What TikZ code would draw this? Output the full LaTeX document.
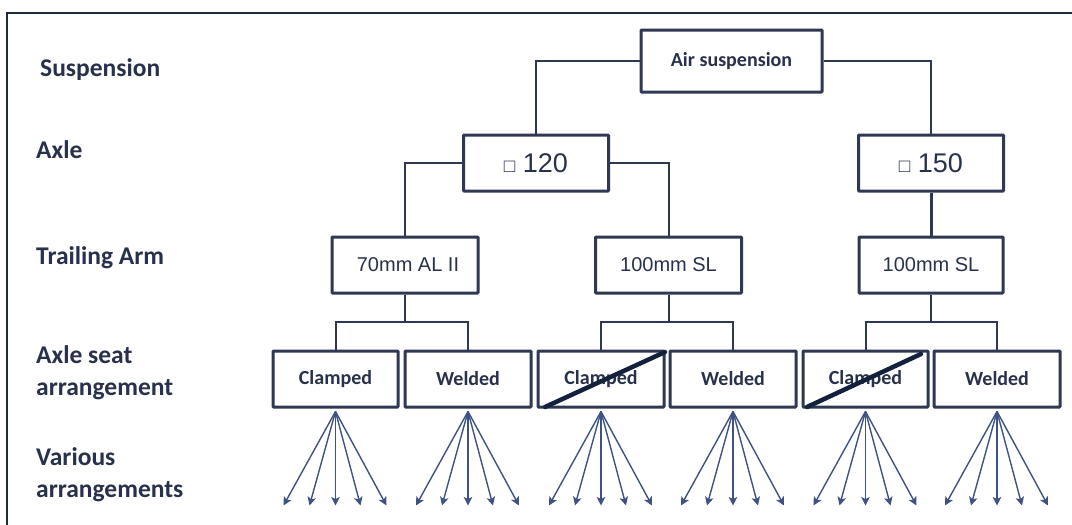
\documentclass[tikz,border=0pt]{standalone}
\usepackage{fontspec}
\setmainfont{Carlito}
\newfontfamily\arialf{Liberation Sans}
\usetikzlibrary{arrows.meta,calc}
\definecolor{navy}{HTML}{2E3853}
\definecolor{txt}{HTML}{28314C}
\definecolor{arr}{HTML}{3E5383}
\definecolor{strike}{HTML}{14213D}
\definecolor{framec}{HTML}{1F2942}
\newcommand{\sqmark}{{\fontsize{19}{24}\selectfont □}}
\begin{document}
\begin{tikzpicture}[x=1pt,y=-1pt,
 box/.style={draw=navy, line width=3pt, minimum height=56pt, inner sep=0pt, text=txt, rounded corners=0.8pt},
 seat/.style={box, minimum width=125pt, font=\fontsize{20}{24}\selectfont\bfseries},
 arm/.style={box, minimum width=146pt, font=\arialf\fontsize{20}{24}\selectfont},
 axle/.style={box, minimum width=145pt, font=\arialf\fontsize{27}{30}\selectfont},
 conn/.style={draw=navy, line width=2pt},
 lab/.style={text=txt, font=\fontsize{25.5}{32}\selectfont\bfseries, align=left, inner sep=0pt},
 fan/.style={draw=arr, line width=1.4pt, -{Stealth[length=8.5pt,width=8.5pt,inset=2pt]}},
 cross/.style={draw=strike, line width=4.5pt, line cap=round}
]
\useasboundingbox (0,0) rectangle (1072,525);
\draw[framec, line width=2pt] (1072,13) -- (7,13) -- (7,525);

% left labels
\node[lab, anchor=base west] (lsusp) at (40,76) {Suspension};
\node[lab, anchor=base west] (laxle) at (36,158) {Axle};
\node[lab, anchor=base west] (larm) at (36,264) {Trailing Arm};
\node[lab, anchor=west] (lseat) at (36,372.5) {Axle seat\\arrangement};
\node[lab, anchor=west] (lvar) at (36,474.5) {Various\\arrangements};

% boxes
\node[box, minimum width=181pt, minimum height=62pt, font=\fontsize{20}{24}\selectfont\bfseries] (air) at (731.5,61) {Air suspension};
\node[axle] (a120) at (536,163) {\sqmark\ 120};
\node[axle] (a150) at (931,163) {\sqmark\ 150};
\node[arm] (t1) at (405,265) {\hspace{6pt}70mm AL II};
\node[arm] (t2) at (668.5,265) {100mm SL};
\node[arm, minimum width=144pt] (t3) at (931,265) {100mm SL};
\node[seat] (s1) at (335.5,379) {Clamped};
\node[seat, minimum width=126pt] (s2) at (468,379) {Welded};
\node[seat, minimum width=126pt] (s3) at (601,379) {Clamped};
\node[seat, minimum width=126pt] (s4) at (733,379) {Welded};
\node[seat] (s5) at (865.5,379) {Clamped};
\node[seat, minimum width=126pt] (s6) at (997,379) {Welded};

% connectors
\draw[conn] (air.west) -| (a120.north);
\draw[conn] (air.east) -| (a150.north);
\draw[conn] (a120.west) -| (t1.north);
\draw[conn] (a120.east) -| (t2.north);
\draw[conn, line width=3pt] (a150.south) -- (t3.north);
\coordinate (j1) at (405,322);
\coordinate (j2) at (668.5,322);
\coordinate (j3) at (931,322);
\draw[conn] (t1.south) -- (j1);
\draw[conn] (t2.south) -- (j2);
\draw[conn] (t3.south) -- (j3);
\draw[conn] (s1.north) |- (j1) -| (s2.north);
\draw[conn] (s3.north) |- (j2) -| (s4.north);
\draw[conn] (s5.north) |- (j3) -| (s6.north);

% strike-throughs
\draw[cross] ($(s3.south west)+(8.5,-1.5)$) -- ($(s3.north east)+(-0.5,2.5)$);
\draw[cross] ($(s5.south west)+(5.5,-1.5)$) -- ($(s5.north east)+(-8.5,4.5)$);

% fans
\foreach \s in {s1,s2,s3,s4,s5,s6}{
  \foreach \dx in {-52,-26,0,25,51}{
    \draw[fan] ($(\s.south)+(0,3)$) -- ($(\s.south)+(\dx,97)$);
  }
}
\end{tikzpicture}
\end{document}
